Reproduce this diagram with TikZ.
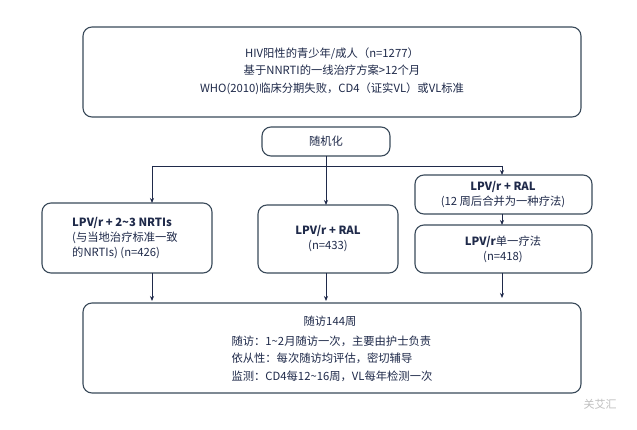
\documentclass[tikz,border=0pt]{standalone}
\usepackage{fontspec}
\setmainfont{Noto Sans CJK SC}
\usetikzlibrary{arrows.meta}
\definecolor{ink}{HTML}{1F2A4A}
\definecolor{edge}{HTML}{3A4A5A}
\begin{document}
\begin{tikzpicture}[x=1pt,y=-1pt,
  box/.style={draw=edge,line width=1.1pt,rounded corners=9pt,fill=white},
  txt/.style={text=ink,font=\fontsize{11.3}{15}\selectfont,align=center},
  arr/.style={draw=ink,line width=0.8pt,-{Stealth[length=5pt,width=4pt]}}]
\useasboundingbox[fill=white] (0,0) rectangle (637,430);
\draw[box] (83,27) rectangle (581,117);
\node[txt,font=\fontsize{11.3}{17.5}\selectfont] (top) at (332,71) {HIV阳性的青少年/成人（n=1277）\\基于NNRTI的一线治疗方案>12个月\\WHO(2010)临床分期失败，CD4（证实VL）或VL标准};
\draw[box] (262,127) rectangle (390,156);
\node[txt] (rand) at (326,141.5) {随机化};
\draw[box] (42,203) rectangle (212,273);
\node[txt,align=left] (l) at (125,238) {\textbf{LPV/r + 2\textasciitilde3 NRTIs}\\(与当地治疗标准一致\\的NRTIs) (n=426)};
\draw[box] (258,205) rectangle (398,273);
\node[txt] (m) at (328,239) {\textbf{LPV/r + RAL}\\(n=433)};
\draw[box] (415,175) rectangle (592,214);
\node[txt] (r1) at (503,194.5) {\textbf{LPV/r + RAL}\\(12 周后合并为一种疗法)};
\draw[box] (415,225) rectangle (592,273);
\node[txt] (r2) at (503,249) {\textbf{LPV/r}单一疗法\\(n=418)};
\draw[box] (83,303) rectangle (581,393);
\node[txt] (b0) at (330,321) {随访144周};
\node[txt,align=left,anchor=north west,font=\fontsize{11.3}{17.5}\selectfont] (b1) at (228,332) {随访：1\textasciitilde2月随访一次，主要由护士负责\\依从性：每次随访均评估，密切辅导\\监测：CD4每12\textasciitilde16周，VL每年检测一次};
\coordinate (s) at (326,166);
\coordinate (sl) at (152,166);
\coordinate (sr) at (502,166);
\draw[ink,line width=0.8pt] (326,156) -- (s);
\draw[ink,line width=0.8pt] (sl) -- (sr);
\draw[arr] (sl) -- (152,203);
\draw[arr] (s) -- (326,205);
\draw[arr] (sr) -- (502,175);
\draw[arr] (502,214) -- (502,225);
\draw[arr] (152,273) -- (152,301);
\draw[arr] (326,273) -- (326,301);
\draw[arr] (502,273) -- (502,298);
\node[text=gray!50,font=\fontsize{11}{13}\selectfont] (wm) at (600,404) {关艾汇};
\end{tikzpicture}
\end{document}
